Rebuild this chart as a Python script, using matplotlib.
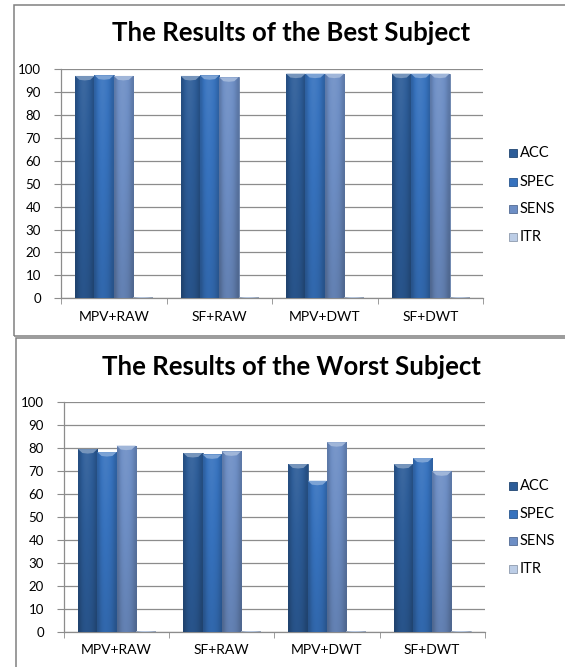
import numpy as np
import matplotlib
matplotlib.use("Agg")
from matplotlib import pyplot as plt
from matplotlib.patches import Rectangle, Polygon
from matplotlib.colors import to_rgb

plt.rcParams["font.family"] = ["Lato", "DejaVu Sans"]

methods = ["MPV+RAW", "SF+RAW", "MPV+DWT", "SF+DWT"]
metrics = ["ACC", "SPEC", "SENS", "ITR"]

best_acc = [97.1, 97.1, 98.1, 98.1]
best_spec = [97.4, 97.4, 98.1, 98.1]
best_sens = [97.1, 96.5, 98.1, 98.1]
best_itr = [0.5, 0.5, 0.5, 0.5]

worst_acc = [79.6, 77.9, 73.1, 73.1]
worst_spec = [78.3, 77.3, 65.8, 75.7]
worst_sens = [81.1, 78.6, 82.6, 69.9]
worst_itr = [0.3, 0.3, 0.3, 0.3]

colors = ["#2C5C98", "#3672BE", "#6D8EC5", "#BCCDE6"]

W, H = 565, 667
fig = plt.figure(figsize=(W / 100, H / 100), dpi=100)


def px_axes(x0, x1, y_top, y_bot):
    # axes placed in pixel coordinates (origin at top-left)
    return fig.add_axes([x0 / W, 1 - y_bot / H, (x1 - x0) / W, (y_bot - y_top) / H])


def shade(c, f):
    r, g, b = to_rgb(c)
    if f < 1:
        return (r * f, g * f, b * f)
    return (r + (1 - r) * (f - 1), g + (1 - g) * (f - 1), b + (1 - b) * (f - 1))


def bevel_bar(ax, x, w, h, color):
    x0 = x - w / 2
    bar = ax.bar(x, h, w, color=color, edgecolor=shade(color, 0.8),
                 linewidth=0.5, zorder=3)[0]
    # shading: darker edges across, lighter top to darker bottom
    across = np.array([0.8, 0.94, 1.0, 1.02, 1.0, 0.97, 0.9, 0.8])
    down = np.linspace(1.06, 0.9, 12)
    img = np.array([[shade(color, a * d) for a in across] for d in down])
    im = ax.imshow(img, extent=(x0, x0 + w, 0, h), aspect="auto",
                   interpolation="bicubic", zorder=3.5)
    im.set_clip_path(bar)
    # lighter bevel cap on top
    if h > 3:
        cap = 1.7
        ax.add_patch(Polygon([(x0, h), (x0 + w, h), (x0 + w * 0.78, h - cap),
                              (x0 + w * 0.5, h - cap * 1.15), (x0 + w * 0.22, h - cap)],
                             closed=True, facecolor=shade(color, 1.35),
                             edgecolor="none", zorder=4))


def draw_panel(ax, series, title, title_y, legend_y):
    n = len(methods)
    bw = 0.183
    idx = np.arange(n)
    for k, vals in enumerate(series):
        for i in idx:
            bevel_bar(ax, i + (k - 1.5) * bw, bw, vals[i], colors[k])
    ax.set_xlim(-0.5, n - 0.5)
    ax.set_ylim(0, 100)
    ax.set_yticks(range(0, 101, 10))
    ax.yaxis.grid(True, color="#8C8C8C", linewidth=0.9, zorder=0)
    ax.set_axisbelow(True)
    ax.set_xticks(idx)
    ax.set_xticklabels(methods)
    ax.set_xticks(np.arange(-0.5, n, 1), minor=True)
    ax.tick_params(axis="x", which="major", length=0, pad=9, labelsize=10)
    ax.tick_params(axis="x", which="minor", length=4, color="#8C8C8C", direction="out")
    ax.tick_params(axis="y", length=5, color="#8C8C8C", labelsize=9.5, pad=9.5)
    for s in ["top", "right"]:
        ax.spines[s].set_visible(False)
    for s in ["left", "bottom"]:
        ax.spines[s].set_color("#8C8C8C")
        ax.spines[s].set_linewidth(0.9)
    ax.set_xlim(-0.5, n - 0.5)

    fig.text(291 / W, 1 - title_y / H, title, ha="center", va="center",
             fontsize=18.5, fontweight="bold")
    for k, name in enumerate(metrics):
        yy = 1 - legend_y[k] / H
        fig.add_artist(Rectangle((509 / W, yy - 4 / H), 8 / W, 8 / H,
                                 transform=fig.transFigure,
                                 facecolor=colors[k], edgecolor=shade(colors[k], 0.75),
                                 linewidth=0.6))
        fig.text(520 / W, yy, name, ha="left", va="center", fontsize=10.5)


# outer borders of the two panels
fig.add_artist(Rectangle((13.5 / W, 1 - 336 / H), 600 / W, (336 - 4.5) / H,
                         transform=fig.transFigure, fill=False,
                         edgecolor="#808080", linewidth=1.1))
fig.add_artist(Rectangle((15.5 / W, -0.1), 600 / W, 0.1 + 1 - 337.5 / H,
                         transform=fig.transFigure, fill=False,
                         edgecolor="#808080", linewidth=1.1))

ax1 = px_axes(61, 483, 69.3, 298.3)
draw_panel(ax1, [best_acc, best_spec, best_sens, best_itr],
           "The Results of the Best Subject", 33, [153, 182, 209, 237])

ax2 = px_axes(64, 484.7, 402.3, 631.7)
draw_panel(ax2, [worst_acc, worst_spec, worst_sens, worst_itr],
           "The Results of the Worst Subject", 367, [486, 514, 541, 569])

fig.savefig("out.png", dpi=100)
